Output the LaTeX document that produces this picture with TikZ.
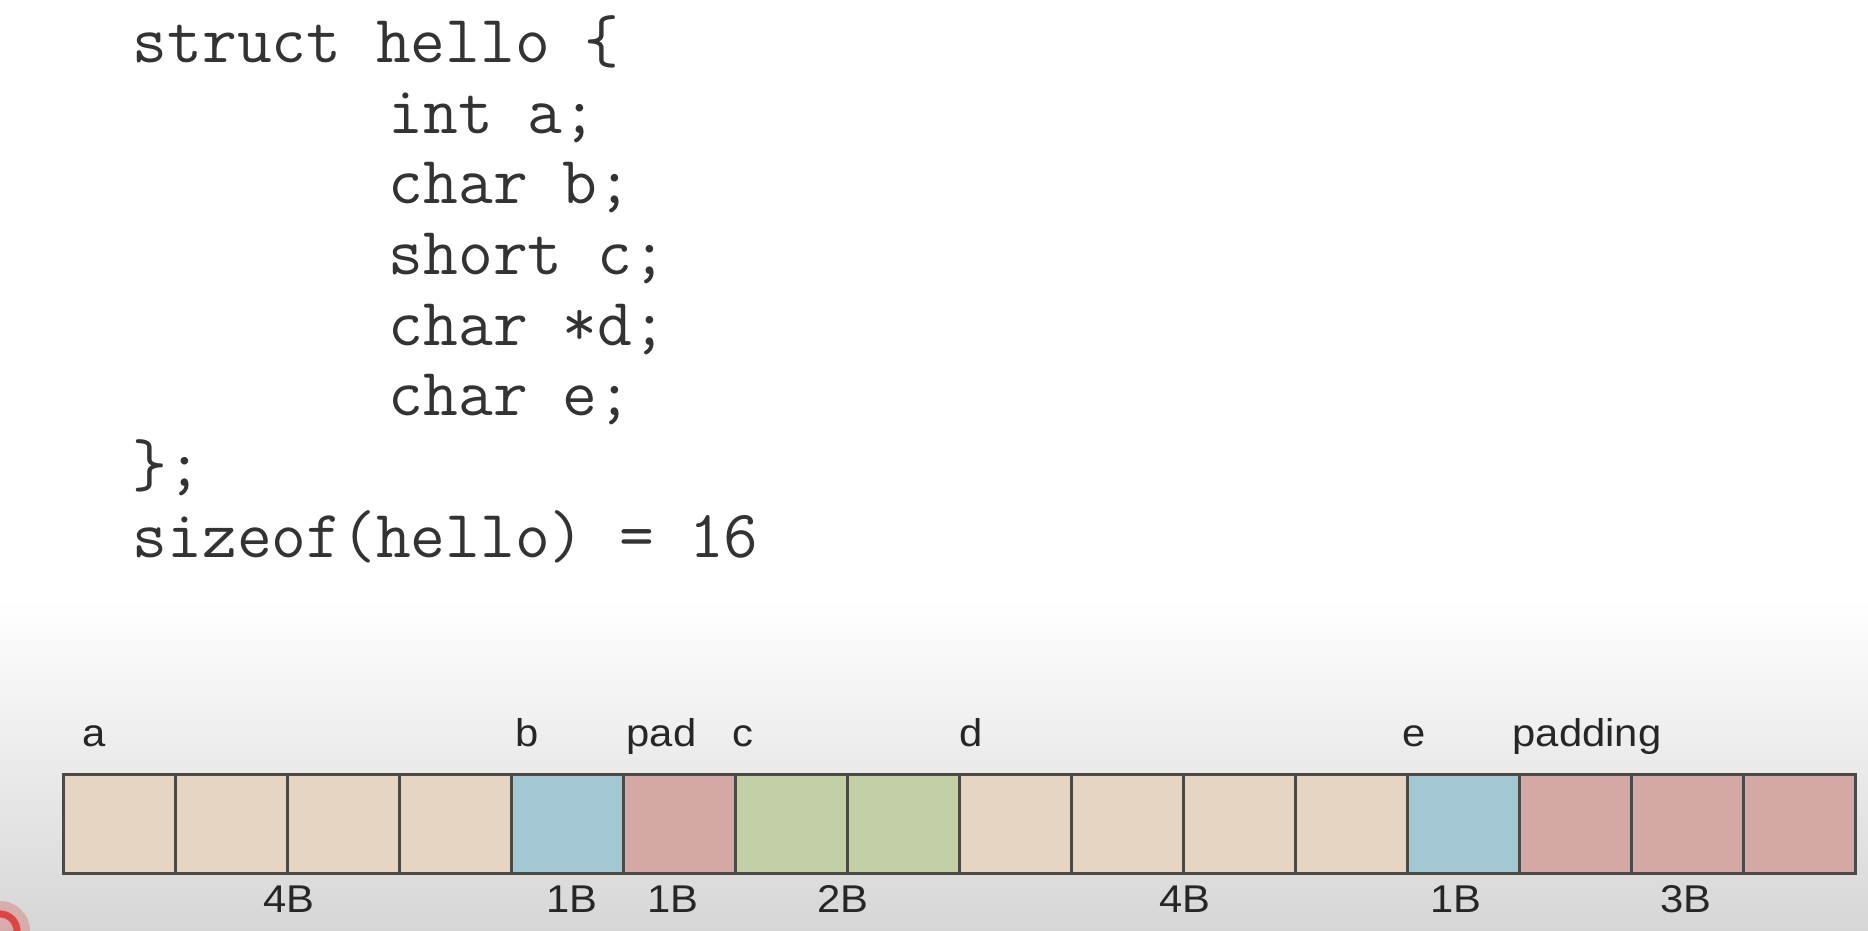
\documentclass[tikz,border=0pt]{standalone}
\usepackage{fontspec}
\usepackage{tikz}
\newfontfamily\labelfont[FakeStretch=1.08]{Liberation Sans}
\definecolor{codegray}{HTML}{333333}
\definecolor{cellline}{HTML}{4D4946}
\definecolor{intcol}{HTML}{E5D5C3}
\definecolor{charcol}{HTML}{A3C7D3}
\definecolor{padcol}{HTML}{D4A9A5}
\definecolor{shortcol}{HTML}{C3CFA7}
\definecolor{bgbottom}{HTML}{D6D6D6}

\begin{document}
\begin{tikzpicture}[x=0.01cm,y=-0.01cm,
  codeline/.style={anchor=base west,inner sep=0,text=codegray,font=\ttfamily\fontsize{19.2}{23}\selectfont},
  cell/.style={draw=cellline,line width=0.75pt,minimum width=1.12cm,minimum height=0.99cm,inner sep=0,anchor=north west},
  toplabel/.style={anchor=base west,inner sep=0,text=black!85,font=\labelfont\fontsize{11}{13}\selectfont},
  sizelabel/.style={toplabel,anchor=base}]
  \useasboundingbox (0,0) rectangle (1868,931);
  \fill[white] (0,0) rectangle (1868,600);
  \shade[top color=white,bottom color=bgbottom] (0,600) rectangle (1868,931);
  \fill[red!85!black,opacity=0.2] (0,931) circle (0.3cm);
  \draw[red!90!black,line width=2pt,opacity=0.6] (0,931) circle (0.17cm);

  \node[codeline] (struct) at (132,63) {struct hello \{};
  \node[codeline] (inta) at (388,134) {int a;};
  \node[codeline] (charb) at (388,204) {char b;};
  \node[codeline] (shortc) at (388,275) {short c;};
  \node[codeline] (chard) at (388,346) {char *d;};
  \node[codeline] (chare) at (388,416) {char e;};
  \node[codeline] (close) at (132,487) {\};};
  \node[codeline] (sizeof) at (132,558) {sizeof(hello) = 16};

  \foreach \col [count=\i from 0] in {intcol,intcol,intcol,intcol,charcol,padcol,shortcol,shortcol,intcol,intcol,intcol,intcol,charcol,padcol,padcol,padcol}
    \node[cell,fill=\col] (m\i) at (62+112*\i,773) {};

  \node[toplabel] (la) at (82,747) {a};
  \node[toplabel] (lb) at (515,747) {b};
  \node[toplabel] (lpad) at (626,747) {pad};
  \node[toplabel] (lc) at (732,747) {c};
  \node[toplabel] (ld) at (959,747) {d};
  \node[toplabel] (le) at (1402,747) {e};
  \node[toplabel] (lpadding) at (1512,747) {padding};

  \node[sizelabel] (sa) at (289,913) {4B};
  \node[sizelabel] (sb) at (572,913) {1B};
  \node[sizelabel] (spad) at (673,913) {1B};
  \node[sizelabel] (sc) at (843,913) {2B};
  \node[sizelabel] (sd) at (1185,913) {4B};
  \node[sizelabel] (se) at (1456,913) {1B};
  \node[sizelabel] (spadding) at (1686,913) {3B};
\end{tikzpicture}
\end{document}
